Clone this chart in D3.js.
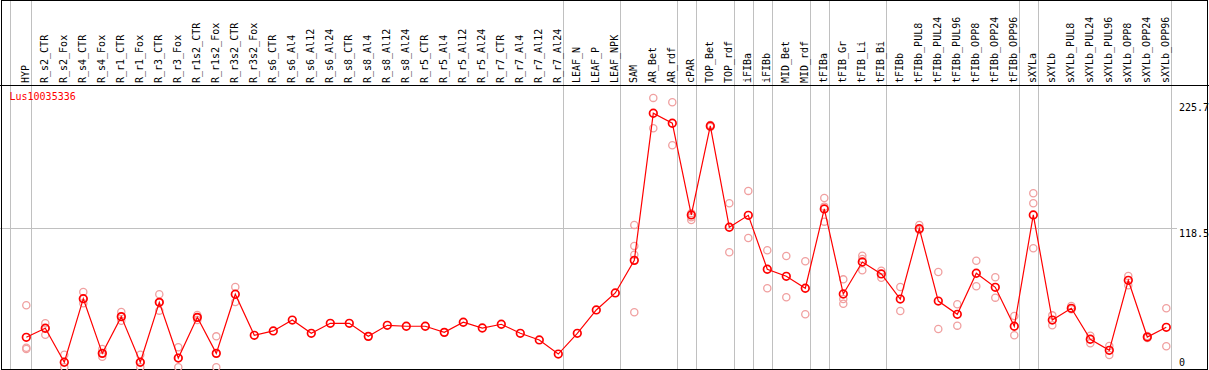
<!DOCTYPE html>
<html>
<head>
<meta charset="utf-8">
<script src="https://cdn.jsdelivr.net/npm/d3@7"></script>
<style>
  body { margin: 0; background: #fff; }
  svg text { font-family: "DejaVu Sans Mono", "Liberation Mono", monospace; font-size: 10px; }
</style>
</head>
<body>
<div id="chart"></div>
<script>
const geneName = "Lus10035336"

const samples = [
  "HYP", "R_s2_CTR", "R_s2_Fox", "R_s4_CTR", "R_s4_Fox", "R_r1_CTR", "R_r1_Fox",
  "R_r3_CTR", "R_r3_Fox", "R_r1s2_CTR", "R_r1s2_Fox", "R_r3s2_CTR", "R_r3s2_Fox",
  "R_s6_CTR", "R_s6_Al4", "R_s6_Al12", "R_s6_Al24", "R_s8_CTR", "R_s8_Al4", "R_s8_Al12",
  "R_s8_Al24", "R_r5_CTR", "R_r5_Al4", "R_r5_Al12", "R_r5_Al24", "R_r7_CTR", "R_r7_Al4",
  "R_r7_Al12", "R_r7_Al24", "LEAF_N", "LEAF_P", "LEAF_NPK", "SAM", "AR_Bet", "AR_rdf",
  "cPAR", "TOP_Bet", "TOP_rdf", "iFIBa", "iFIBb", "MID_Bet", "MID_rdf", "tFIBa", "tFIB_Gr",
  "tFIB_Li", "tFIB_Bi", "tFIBb", "tFIBb_PUL8", "tFIBb_PUL24", "tFIBb_PUL96", "tFIBb_OPP8",
  "tFIBb_OPP24", "tFIBb_OPP96", "sXYLa", "sXYLb", "sXYLb_PUL8", "sXYLb_PUL24", "sXYLb_PUL96",
  "sXYLb_OPP8", "sXYLb_OPP24", "sXYLb_OPP96"
]

// mean expression per sample
const means = [
  25.6, 33.3, 4.3, 58.5, 11.9, 43.2, 4.3, 55.4, 7.9, 42.6, 11.9, 62.3, 27.3,
  31.0, 40.3, 29.0, 37.5, 37.5, 26.4, 35.8, 35.0, 35.0, 29.8, 38.4, 33.5, 36.7, 29.0,
  23.3, 11.3, 29.0, 48.9, 63.4, 91.2, 216.6, 208.1, 129.9, 205.8, 119.4, 129.6, 83.6,
  77.6, 67.4, 135.0, 62.5, 89.8, 79.6, 58.2, 118.2, 56.5, 45.2, 80.2, 68.2, 35.0,
  129.9, 40.3, 50.3, 23.9, 14.5, 74.2, 25.8, 34.1
]

// individual replicates (empty = single sample)
const replicates = [
  [52.9, 16.7, 15.6], [37.5, 27.8, 33.3], [10.7, 0], [64.2, 54.6, 58.5], [15.6, 9.0, 11.9],
  [47.2, 39.7, 43.2], [10.7, 0, 4.3], [62.3, 48.3, 55.4], [17.1, 0, 7.9], [44.6, 40.3, 42.6],
  [26.4, 0], [68.5, 55.7], [],
  [], [], [], [], [], [], [], [], [], [], [], [], [], [], [], [], [], [], [],
  [121.4, 103.5, 96.0, 46.9], [229.7, 203.8], [226.0, 189.3], [131.3, 127.9, 125.6],
  [206.6, 204.9], [139.9, 98.1], [150.4, 110.3], [99.8, 67.4], [94.9, 59.7], [90.4, 45.2],
  [144.4, 137.0, 124.2], [75.0, 58.2, 54.2], [95.2, 92.4, 82.7], [82.4, 76.4], [68.5, 48.0],
  [121.4, 117.1], [81.3, 32.7], [53.7, 35.5], [90.9, 69.1], [76.8, 59.4], [43.7, 27.3],
  [148.4, 139.9, 101.5], [44.3, 35.8], [52.3, 49.5], [26.9, 20.5], [18.2, 10.5],
  [77.9, 69.9], [26.7, 25.0], [50.3, 17.9]
]

// samples followed by a group separator
const groupEnds = [
  "HYP", "R_r7_Al24", "LEAF_NPK", "AR_rdf", "cPAR", "TOP_rdf", "iFIBa", "iFIBb",
  "MID_rdf", "tFIBa", "tFIB_Bi", "tFIBb_OPP96", "sXYLa", "sXYLb_OPP96"
]

const yTicks = [0, 118.5, 225.7]

const width = 1209, height = 370
const headerY = 85, bottomY = 369

const svg = d3.select("#chart").append("svg")
  .attr("width", width)
  .attr("height", height)

let x = d3.scalePoint().domain(samples).range([26.3, 1166.3])
let y = d3.scaleLinear().domain([0, 225.7]).range([367.3, 102.6])

//group separators
svg.append("line")
  .attr("x1", x(samples[0]) - 15.5).attr("x2", x(samples[0]) - 15.5)
  .attr("y1", 0).attr("y2", bottomY)
  .style("stroke", "#c0c0c0").style("shape-rendering", "crispEdges")

svg.selectAll(".sep")
  .data(groupEnds)
  .enter()
  .append("line")
  .attr("class", "sep")
  .attr("x1", d => Math.round(x(d) + 4.4) + 0.5)
  .attr("x2", d => Math.round(x(d) + 4.4) + 0.5)
  .attr("y1", 0).attr("y2", bottomY)
  .style("stroke", "#c0c0c0")
  .style("shape-rendering", "crispEdges")

//mid gridline
svg.selectAll(".grid")
  .data(yTicks.filter(d => d > 0 && d < 225.7))
  .enter()
  .append("line")
  .attr("class", "grid")
  .attr("x1", 0).attr("x2", 1177)
  .attr("y1", d => Math.round(y(d)) + 0.5)
  .attr("y2", d => Math.round(y(d)) + 0.5)
  .style("stroke", "#c0c0c0")
  .style("shape-rendering", "crispEdges")

//frame
svg.append("line")
  .attr("x1", 0).attr("x2", width).attr("y1", headerY + 0.5).attr("y2", headerY + 0.5)
  .style("stroke", "#000").style("shape-rendering", "crispEdges")
svg.append("rect")
  .attr("x", 1).attr("y", 0.5).attr("width", 1206).attr("height", bottomY - 0.5)
  .style("fill", "none").style("stroke", "#000").style("shape-rendering", "crispEdges")

//column labels (baseline snapped to whole pixels so underscores stay visible)
svg.selectAll(".lab")
  .data(samples)
  .enter()
  .append("text")
  .attr("class", "lab")
  .attr("transform", d => "translate(" + (Math.round(x(d)) + 3) + "," + (headerY - 2) + ") rotate(-90)")
  .style("fill", "#000")
  .text(d => d)

//title
svg.append("text")
  .attr("x", 9.5).attr("y", 100)
  .style("fill", "#ff0000")
  .text(geneName)

//y labels
svg.selectAll(".ylab")
  .data(yTicks)
  .enter()
  .append("text")
  .attr("class", "ylab")
  .attr("x", 1179)
  .attr("y", d => Math.min(y(d) + 8.5, 365.5))
  .style("fill", "#000")
  .text(d => d)

//replicates
let repPoints = []
replicates.forEach((r, i) => r.forEach(v => repPoints.push({ s: samples[i], v: v })))

svg.selectAll(".rep")
  .data(repPoints)
  .enter()
  .append("circle")
  .attr("class", "rep")
  .attr("cx", d => x(d.s))
  .attr("cy", d => y(d.v))
  .attr("r", 3.6)
  .style("fill", "none")
  .style("stroke", "#f0a0a0")
  .style("stroke-width", 1.3)

//mean line
let toLine = d3.line()
  .x((d, i) => x(samples[i]))
  .y(d => y(d))

svg.append("path")
  .datum(means)
  .attr("d", toLine)
  .style("fill", "none")
  .style("stroke", "#ff0000")
  .style("stroke-width", "1.2px")

svg.selectAll(".mean")
  .data(means)
  .enter()
  .append("circle")
  .attr("class", "mean")
  .attr("cx", (d, i) => x(samples[i]))
  .attr("cy", d => y(d))
  .attr("r", 3.8)
  .style("fill", "none")
  .style("stroke", "#ff0000")
  .style("stroke-width", 1.7)
</script>
</body>
</html>
